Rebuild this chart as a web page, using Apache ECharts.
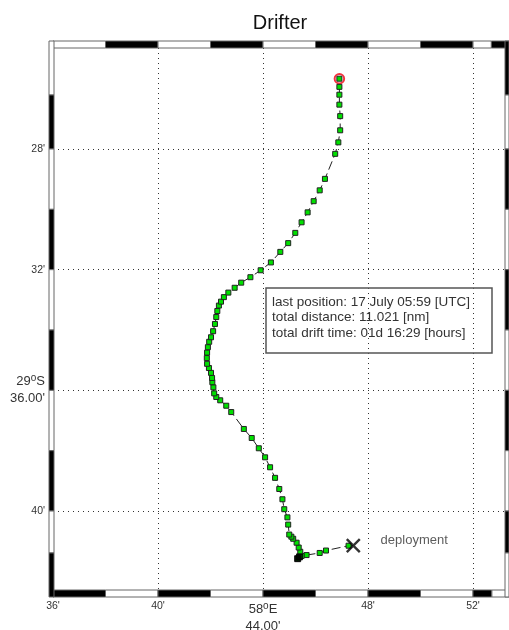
<!DOCTYPE html>
<html><head><meta charset="utf-8">
<style>html,body{margin:0;padding:0;background:#fff}#c{width:509px;height:630px}</style>
<script src="https://cdn.jsdelivr.net/npm/echarts@6/dist/echarts.min.js"></script>
</head><body><div id="c"></div>
<script>
// Track, deployment to last fix: longitude minutes (58°E + m) and latitude minutes (29°S + m)
const trackLon = [47.44,47.26,46.40,46.16,45.66,45.32,45.39,45.47,45.42,45.36,45.28,45.15,45.08,45.00,44.96,44.93,44.81,44.74,44.62,44.46,44.27,44.08,43.84,43.57,43.27,42.79,42.60,42.37,42.22,42.14,42.11,42.07,42.06,42.02,41.94,41.87,41.86,41.87,41.90,41.95,42.02,42.10,42.17,42.22,42.26,42.32,42.40,42.51,42.68,42.92,43.17,43.52,43.91,44.30,44.66,44.96,45.23,45.47,45.70,45.93,46.16,46.36,46.75,46.87,46.94,46.94,46.91,46.91,46.91,46.91];
const trackLat = [41.15,41.15,41.31,41.39,41.46,41.58,41.52,41.49,41.35,41.21,41.05,40.92,40.85,40.78,40.45,40.21,39.94,39.61,39.27,38.90,38.55,38.22,37.92,37.58,37.28,36.72,36.51,36.33,36.22,36.10,35.90,35.73,35.59,35.42,35.26,35.12,34.93,34.75,34.57,34.39,34.24,34.04,33.80,33.57,33.37,33.19,33.06,32.91,32.76,32.60,32.43,32.25,32.02,31.76,31.41,31.12,30.78,30.43,30.10,29.73,29.37,28.99,28.16,27.78,27.38,26.91,26.53,26.20,25.94,25.67];
const blackFixes = [[45.32,41.58],[45.39,41.52]];
const deployment = [47.44,41.15];
const lastFix = [46.91,25.67];
const deploymentLabelAt = [48.46,40.96];

const xTicks = [36,40,44,48,52];
const yTicks = [28,32,36,40];
const xTickLabels = ["36'","40'","{b|58}{s|o}{b|E}\n{b|44.00'}","48'","52'"];
const yTickLabels = ["28'","32'","{b|29}{s|o}{b|S}\n{b|36.00'}","40'"];

const title = "Drifter";
const infoLines = ["last position: 17 July 05:59 [UTC]","total distance: 11.021 [nm]","total drift time: 01d 16:29 [hours]"];

// Alternating frame bands (axis minutes)
const lonEdgesTop = [36,38,40,42,44,46,48,50,52,52.7,53.37];
const lonEdgesBottom = [36,38,40,42,44,46,48,50,52,52.72,53.37];
const latEdges = [24.42,26.21,28,30,32,34,36,38,40,41.39,42.85];

const X0=36, X1=53.219, Y0=24.652, Y1=42.618;
const bands=[];
lonEdgesTop.slice(0,-1).forEach((e,i)=>bands.push(['top',e,lonEdgesTop[i+1],i%2?0:1]));
lonEdgesBottom.slice(0,-1).forEach((e,i)=>bands.push(['bottom',e,lonEdgesBottom[i+1],i%2?1:0]));
latEdges.slice(0,-1).forEach((e,i)=>bands.push(['left',e,latEdges[i+1],i%2?0:1]));
latEdges.slice(0,-1).forEach((e,i)=>bands.push(['right',e,latEdges[i+1],i%2?1:0]));

function renderBand(params,api){
  const b=bands[params.dataIndex];
  let x,y,w,h;
  if(b[0]==='top'||b[0]==='bottom'){
    const a=api.coord([b[1],Y0]),c=api.coord([b[2],Y1]);
    x=a[0];w=c[0]-a[0];
    if(b[0]==='top'){y=a[1]-7;h=7;}else{y=c[1];h=7;}
  }else{
    const a=api.coord([X0,b[1]]),c=api.coord([X1,b[2]]);
    y=a[1];h=c[1]-a[1];
    if(b[0]==='left'){x=a[0]-4;w=5;}else{x=c[0];w=4;}
  }
  return {type:'rect',shape:{x:x,y:y,width:w,height:h},
    style:{fill:b[3]?'#fff':'#000',stroke:'#666',lineWidth:1}};
}

const labelRich={b:{fontSize:13,lineHeight:17,color:'#333',fontFamily:'Liberation Sans'},
  s:{fontSize:10,lineHeight:17,color:'#333',fontFamily:'Liberation Sans',verticalAlign:'top',padding:[0,0,5,0]}};

const chart=echarts.init(document.getElementById('c'),null,{renderer:'canvas'});
chart.setOption({
  animation:false,
  backgroundColor:'#fff',
  title:{text:title,left:275,top:8,textAlign:'center',textStyle:{fontSize:20,fontWeight:'normal',color:'#111',fontFamily:'Liberation Sans'}},
  grid:{left:53,right:4,top:48,bottom:40,containLabel:false,outerBoundsMode:'none'},
  xAxis:{type:'value',min:X0,max:X1,
    axisLine:{show:false},
    axisTick:{show:false,customValues:xTicks},
    axisLabel:{customValues:xTicks,margin:11,fontSize:10.5,color:'#333',fontFamily:'Liberation Sans',
      hideOverlap:false,rich:labelRich,
      formatter:v=>xTickLabels[xTicks.indexOf(v)]},
    splitLine:{show:true,lineStyle:{color:'#333',width:1,type:[1,4]}}},
  yAxis:{type:'value',inverse:true,min:Y0,max:Y1,
    axisLine:{show:false},
    axisTick:{show:false,customValues:yTicks},
    axisLabel:{customValues:yTicks,margin:8,fontSize:10.5,color:'#333',fontFamily:'Liberation Sans',
      hideOverlap:false,rich:labelRich,
      formatter:v=>yTickLabels[yTicks.indexOf(v)]},
    splitLine:{show:true,lineStyle:{color:'#333',width:1,type:[1,4]}}},
  graphic:[
    {type:'rect',z:20,shape:{x:266,y:288,width:226,height:65},style:{fill:'transparent',stroke:'#555',lineWidth:1.5}},
    ...infoLines.map((t,i)=>({type:'text',z:21,x:272,y:[302,317.5,333][i],
      style:{text:t,fill:'#333',font:'13.5px "Liberation Sans"',verticalAlign:'middle',textVerticalAlign:'middle'}}))
  ],
  series:[
    {type:'custom',name:'frame',renderItem:renderBand,clip:false,silent:true,z:10,
     data:bands.map((b,i)=>[i]),encode:{x:[],y:[]}},
    {type:'line',name:'track',data:trackLon.map((v,i)=>[v,trackLat[i]]),z:3,clip:false,
     symbol:'none',lineStyle:{color:'#222',width:1,type:[9,4]}},
    {type:'scatter',name:'last ring',data:[lastFix],symbol:'circle',symbolSize:9.5,z:4,
     itemStyle:{color:'rgba(0,0,0,0)',borderColor:'#f00010',borderWidth:2}},
    {type:'scatter',name:'fixes',data:trackLon.slice(1).map((v,i)=>[v,trackLat[i+1]]),
     symbol:'rect',symbolSize:5,z:5,
     itemStyle:{color:'#00e000',borderColor:'#222',borderWidth:1,opacity:1}},
    {type:'scatter',name:'black fixes',data:blackFixes,symbol:'rect',symbolSize:6,z:6,
     itemStyle:{color:'#000',borderColor:'#000',borderWidth:1}},
    {type:'scatter',name:'deployment',data:[deployment],z:7,
     symbol:'path://M0 0L10 10M10 0L0 10',symbolSize:13,
     itemStyle:{color:'none',borderColor:'#000',borderWidth:2.4}},
    {type:'scatter',name:'deployment label',data:[deploymentLabelAt],symbol:'circle',symbolSize:1,z:8,
     itemStyle:{color:'rgba(0,0,0,0)'},
     label:{show:true,position:'right',distance:0,formatter:'deployment',fontSize:13,color:'#333',fontFamily:'Liberation Sans'}}
  ]
});
</script></body></html>
